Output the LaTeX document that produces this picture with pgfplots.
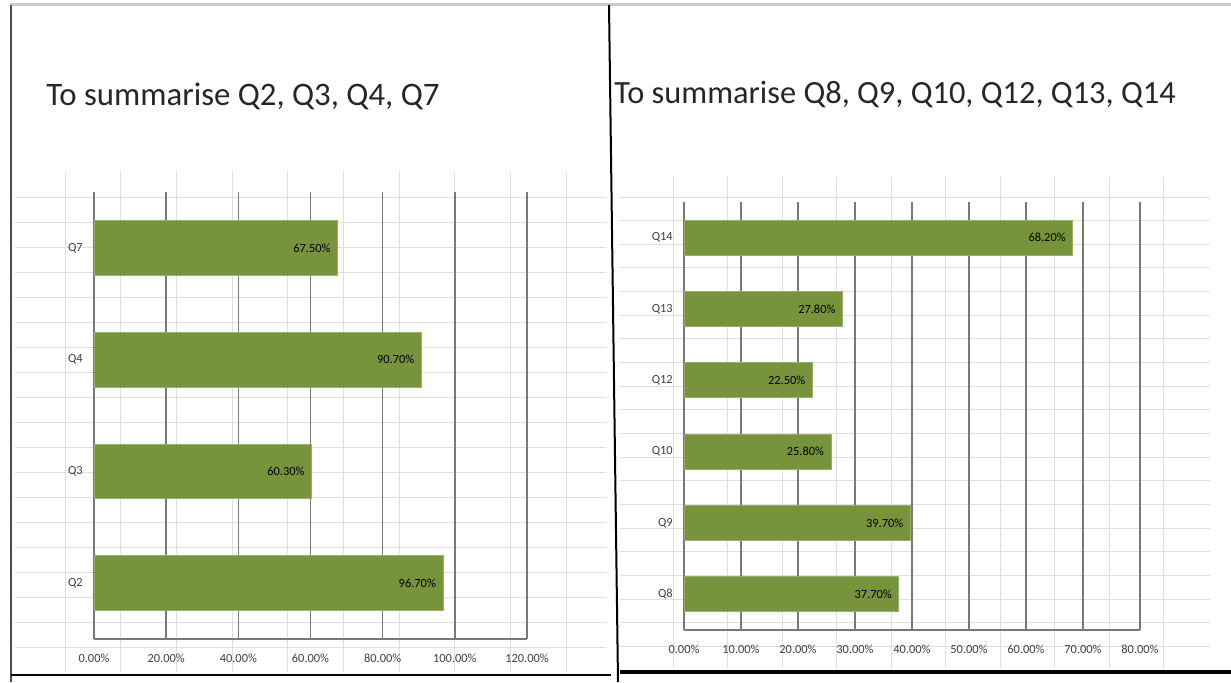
\documentclass[border=0pt]{standalone}
\usepackage{pgfplots}
\pgfplotsset{compat=1.18}
\usepackage{fontspec}
\setmainfont{Carlito}

\definecolor{barolive}{RGB}{119,147,60}
\definecolor{cellline}{RGB}{222,222,222}
\definecolor{gridmajor}{RGB}{120,120,120}

\newcommand{\smallfont}{\fontsize{6.2}{7}\selectfont}

\pgfplotsset{
  summary/.style={
    xbar, scale only axis,
    axis x line=bottom, axis y line=left,
    axis line style={gridmajor, line width=0.8pt, -},
    xmajorgrids, major grid style={gridmajor, line width=0.8pt},
    ymin=-0.5, xmin=0,
    tick style={draw=none},
    bar width=0.49,
    /pgf/number format/assume math mode=true,
    xticklabel={\pgfmathprintnumber[fixed,fixed zerofill,precision=2]{\tick}\%},
    ticklabel style={font=\smallfont, text=black!75},
    xticklabel style={yshift=-2pt},
    point meta=x,
    nodes near coords={\pgfmathprintnumber[fixed,fixed zerofill,precision=2]{\pgfplotspointmeta}\%},
    nodes near coords style={anchor=east, xshift=0pt, font=\smallfont, text=black},
  },
  summarybar/.style={fill=barolive, draw=barolive!75!white, line width=0.4pt},
}

\begin{document}
\begin{tikzpicture}
\useasboundingbox (0,0) rectangle (615.5pt,341pt);

% worksheet cells behind the two charts (drawn in screen units, y downwards)
\begin{scope}[x=0.5pt, y=-0.5pt, shift={(0pt,341pt)}]
  \fill[white] (0,0) rectangle (1231,682);
  % left sheet
  \foreach \k in {0,...,18} \draw[cellline, line width=0.5pt] (15,197+25*\k) -- (606,197+25*\k);
  \foreach \k in {0,...,9} \draw[cellline, line width=0.5pt] (65+55.7*\k,172) -- (65+55.7*\k,672);
  % right sheet
  \foreach \k in {0,...,19} \draw[cellline, line width=0.5pt] (620,197+23.65*\k) -- (1210,197+23.65*\k);
  \foreach \k in {0,...,9} \draw[cellline, line width=0.5pt] (673+54.5*\k,177) -- (673+54.5*\k,668);
  % frames
  \draw[black!20, line width=1.5pt] (10,5) -- (1231,5);
  \draw[black!70, line width=1pt] (11,5) -- (11,682);
  \draw[black, line width=1pt] (609,5) -- (618,682);
  \draw[black, line width=1pt] (11,675) -- (611,675);
  \draw[black, line width=2pt] (620,672) -- (1231,672);
\end{scope}

\node[anchor=base west, inner sep=0pt, font=\fontsize{16.4}{20}\selectfont, text=black!85] at (23pt,288.5pt) {To summarise Q2, Q3, Q4, Q7};
\node[anchor=base west, inner sep=0pt, font=\fontsize{16.2}{20}\selectfont, text=black!85] at (307pt,289.5pt) {To summarise Q8, Q9, Q10, Q12, Q13, Q14};

\begin{axis}[summary,
  at={(47pt,21.5pt)}, anchor=south west,
  width=216.5pt, height=223.5pt,
  xmax=120, xtick={0,20,...,120},
  ymax=3.5, ytick={0,1,2,3}, yticklabels={Q2,Q3,Q4,Q7}]
  \addplot[summarybar] coordinates {(96.7,0) (60.3,1) (90.7,2) (67.5,3)};
\end{axis}

\begin{axis}[summary,
  at={(342pt,26pt)}, anchor=south west,
  width=228pt, height=214pt,
  xmax=80, xtick={0,10,...,80},
  ymax=5.5, ytick={0,...,5}, yticklabels={Q8,Q9,Q10,Q12,Q13,Q14}]
  \addplot[summarybar] coordinates {(37.7,0) (39.7,1) (25.8,2) (22.5,3) (27.8,4) (68.2,5)};
\end{axis}
\end{tikzpicture}
\end{document}
